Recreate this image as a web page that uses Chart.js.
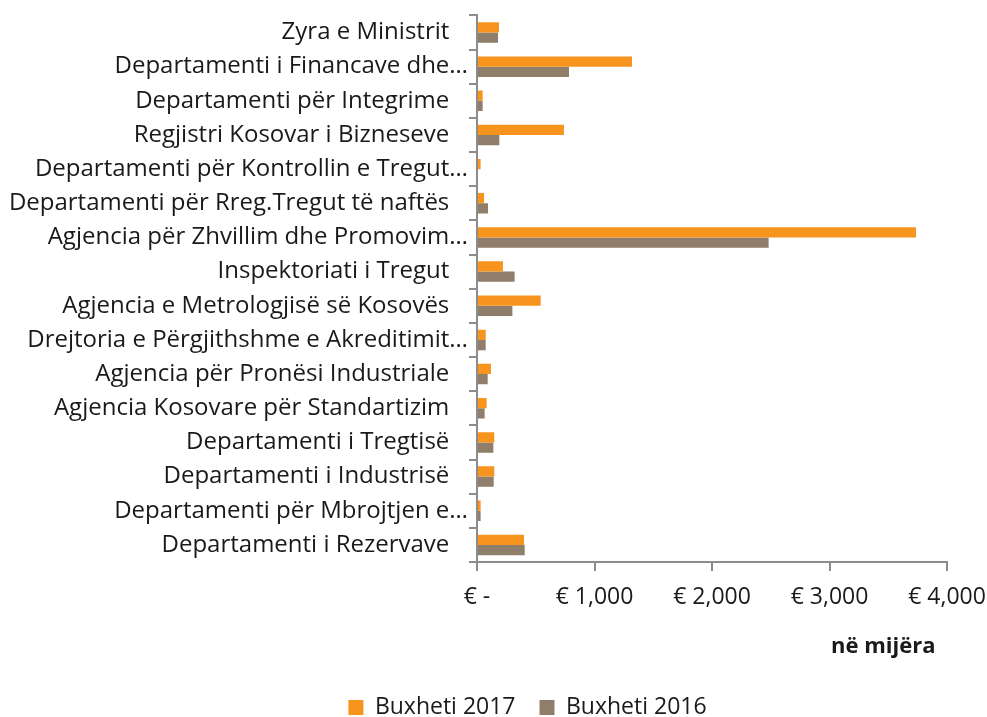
<!DOCTYPE html>
<html>
<head>
<meta charset="utf-8">
<title>Buxheti</title>
<script src="https://cdn.jsdelivr.net/npm/chart.js@4.4.1/dist/chart.umd.min.js"></script>
<style>
  html, body { margin: 0; padding: 0; background: #fff; overflow: hidden; }
  canvas { display: block; }
</style>
</head>
<body>
<canvas id="chart" width="987" height="717"></canvas>
<script>
// Data (thousands of euro)
const categories = [
  'Zyra e Ministrit',
  'Departamenti i Financave dhe…',
  'Departamenti për Integrime',
  'Regjistri Kosovar i Bizneseve',
  'Departamenti për Kontrollin e Tregut…',
  'Departamenti për Rreg.Tregut të naftës',
  'Agjencia për Zhvillim dhe Promovim…',
  'Inspektoriati i Tregut',
  'Agjencia e Metrologjisë së Kosovës',
  'Drejtoria e Përgjithshme e Akreditimit…',
  'Agjencia për Pronësi Industriale',
  'Agjencia Kosovare për Standartizim',
  'Departamenti i Tregtisë',
  'Departamenti i Industrisë',
  'Departamenti për Mbrojtjen e…',
  'Departamenti i Rezervave'
];
const budget2017 = [187, 1319, 48, 740, 31, 60, 3736, 221, 542, 74, 119, 82, 147, 147, 31, 400];
const budget2016 = [179, 783, 48, 190, 0, 94, 2482, 320, 301, 74, 91, 65, 139, 142, 31, 406];
const xTicks = [0, 1000, 2000, 3000, 4000];

const axisGrey = '#8c8c8c';
const textColor = '#1a1a1a';

// nudges the bottom legend right and down, like the original
const legendShift = {
  id: 'legendShift',
  afterLayout(chart) {
    const lg = chart.legend;
    lg.left += 30;
    lg.right += 30;
    lg.top += 12;
    lg.bottom += 12;
  }
};

new Chart(document.getElementById('chart'), {
  type: 'bar',
  data: {
    labels: categories,
    datasets: [{
      label: 'Buxheti 2017',
      data: budget2017,
      backgroundColor: '#f7941e',
      categoryPercentage: 0.6,
      barPercentage: 1
    }, {
      label: 'Buxheti 2016',
      data: budget2016,
      backgroundColor: '#8e7e6a',
      categoryPercentage: 0.6,
      barPercentage: 1
    }]
  },
  options: {
    indexAxis: 'y',
    responsive: false,
    animation: false,
    layout: { padding: { top: 15, left: 8, right: 0, bottom: 0 } },
    scales: {
      x: {
        min: 0,
        max: 4000,
        afterBuildTicks: scale => { scale.ticks = xTicks.map(v => ({ value: v })); },
        afterFit: scale => {
          scale.height = 98;
          scale.paddingRight = 40;
        },
        border: { color: axisGrey, width: 2 },
        grid: { drawOnChartArea: false, color: axisGrey, lineWidth: 2, tickLength: 9 },
        ticks: {
          color: textColor,
          font: { family: 'Open Sans', size: 23 },
          padding: 13,
          maxRotation: 0,
          callback: v => v === 0 ? '€ -' : '€ ' + v.toLocaleString('en-US')
        },
        title: {
          display: true,
          text: 'në mijëra  ',
          align: 'end',
          color: textColor,
          font: { family: 'Open Sans', size: 22, weight: 'bold' },
          padding: { top: 22, bottom: 0 }
        }
      },
      y: {
        afterFit: scale => { scale.width = 469; },
        border: { color: axisGrey, width: 2 },
        grid: { drawOnChartArea: false, color: axisGrey, lineWidth: 2, tickLength: 8, offset: true },
        ticks: {
          color: textColor,
          font: { family: 'Open Sans', size: 24 },
          padding: 1,
          autoSkip: false,
          callback: function (v) {
            const s = this.getLabelForValue(v);
            return s.endsWith('…') ? s : s + '   ';
          }
        }
      }
    },
    plugins: {
      legend: {
        position: 'bottom',
        labels: {
          color: textColor,
          font: { family: 'Open Sans', size: 23 },
          boxWidth: 15,
          boxHeight: 15,
          padding: 24
        }
      },
      tooltip: { enabled: false }
    }
  },
  plugins: [legendShift]
});
</script>
</body>
</html>
